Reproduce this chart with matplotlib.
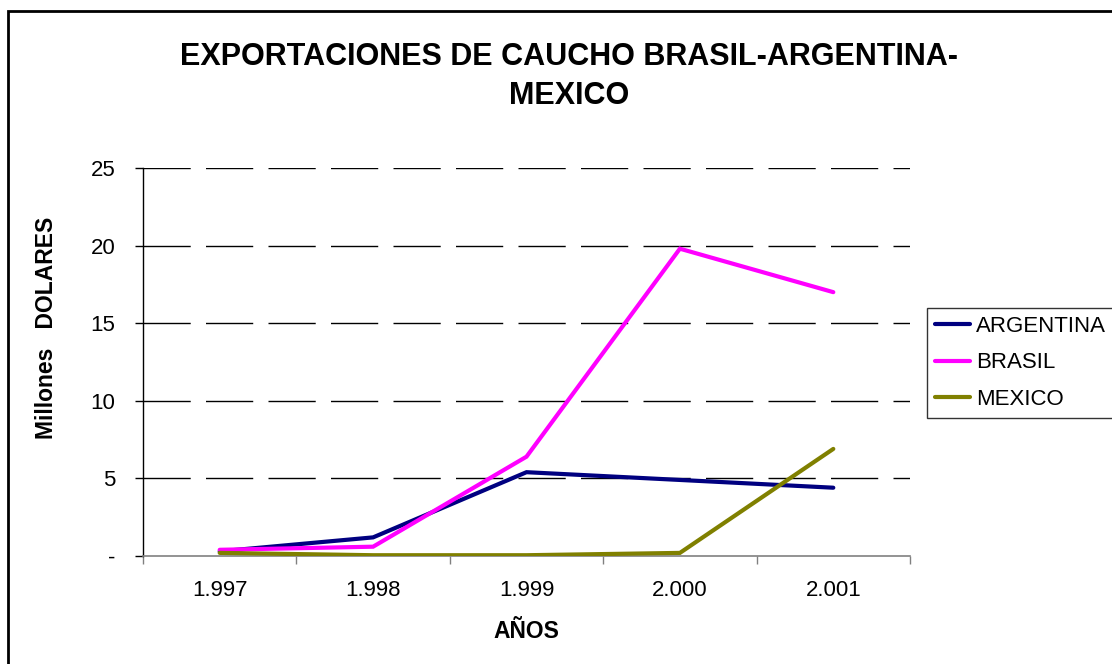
# libraries needed for the chart
import matplotlib
matplotlib.use("Agg")
import matplotlib.pyplot as plt
from matplotlib.patches import Rectangle

# data (millones de dolares)
years = ['1.997', '1.998', '1.999', '2.000', '2.001']
argentina = [0.3, 1.2, 5.4, 4.9, 4.4]
brasil = [0.4, 0.6, 6.4, 19.8, 17.0]
mexico = [0.2, 0.05, 0.05, 0.2, 6.9]
series_names = ['ARGENTINA', 'BRASIL', 'MEXICO']
series_colors = ['#000080', '#FF00FF', '#808000']
y_ticks = [0, 5, 10, 15, 20, 25]
y_tick_labels = ['-', '5', '10', '15', '20', '25']


def show_line_plot():
    '''
    Line chart in the old Excel look: dashed grid, legend on the right,
    and a frame round the whole picture.
    '''
    plt.rcParams['font.family'] = ['Liberation Sans', 'DejaVu Sans']
    plt.rcParams['lines.scale_dashes'] = False

    fig = plt.figure(figsize=(11.12, 6.64), dpi=100)
    # plot area placed where it sits in the original
    ax = fig.add_axes([143 / 1112, 1 - 556 / 664, 767 / 1112, 388 / 664])

    x = list(range(len(years)))
    for values, name, color in zip([argentina, brasil, mexico], series_names, series_colors):
        ax.plot(x, values, color=color, linewidth=3, label=name,
                solid_capstyle='round', solid_joinstyle='miter', zorder=3)

    # axis ranges and ticks
    ax.set_xlim(-0.5, len(years) - 0.5)
    ax.set_ylim(0, 25)
    ax.set_yticks(y_ticks)
    ax.set_yticklabels(y_tick_labels, fontsize=16)
    ax.set_xticks(x)
    ax.set_xticklabels(years, fontsize=16)
    ax.set_xticks([i - 0.5 for i in range(len(years) + 1)], minor=True)
    ax.tick_params(axis='x', which='major', length=0, pad=17)
    ax.tick_params(axis='x', which='minor', length=6, width=1, direction='out', color='#808080')
    ax.tick_params(axis='y', length=6, width=1, direction='out', pad=14)

    # dashed horizontal grid lines
    for yv in y_ticks[1:]:
        ax.axhline(yv, color='black', linewidth=1, linestyle=(0, (34, 11)), zorder=1)

    # spines like Excel: only left and bottom
    ax.spines['top'].set_visible(False)
    ax.spines['right'].set_visible(False)
    ax.spines['left'].set_color('black')
    ax.spines['bottom'].set_color('#808080')
    ax.spines['left'].set_linewidth(1)
    ax.spines['bottom'].set_linewidth(1.2)

    # titles and labels
    fig.text(569 / 1112, 1 - 57 / 664, 'EXPORTACIONES DE CAUCHO BRASIL-ARGENTINA-',
             ha='center', va='center', fontsize=22, fontweight='bold')
    fig.text(569 / 1112, 1 - 96 / 664, 'MEXICO',
             ha='center', va='center', fontsize=22, fontweight='bold')
    fig.text(47 / 1112, 1 - 328 / 664, 'Millones   DOLARES', rotation=90,
             ha='center', va='center', fontsize=16.5, fontweight='bold')
    fig.text(526 / 1112, 1 - 631 / 664, 'AÑOS',
             ha='center', va='center', fontsize=16.5, fontweight='bold')

    # legend box on the right side
    leg = fig.legend(loc='upper left', bbox_to_anchor=(927 / 1112, 1 - 308 / 664),
                     fontsize=16, frameon=True, fancybox=False, handlelength=1.6,
                     handletextpad=0.25, borderpad=0.35, labelspacing=0.7, borderaxespad=0)
    leg.get_frame().set_edgecolor('black')
    leg.get_frame().set_linewidth(1)

    # frame round the whole chart (right and bottom edge fall outside the picture)
    fig.patches.append(Rectangle((8 / 1112, -0.1), 1.2, 1.1 - 11 / 664,
                                 transform=fig.transFigure, fill=False,
                                 edgecolor='black', linewidth=2))

    # saving the plot image
    fig.savefig('out.png', dpi=100)


if __name__ == "__main__":
    show_line_plot()
